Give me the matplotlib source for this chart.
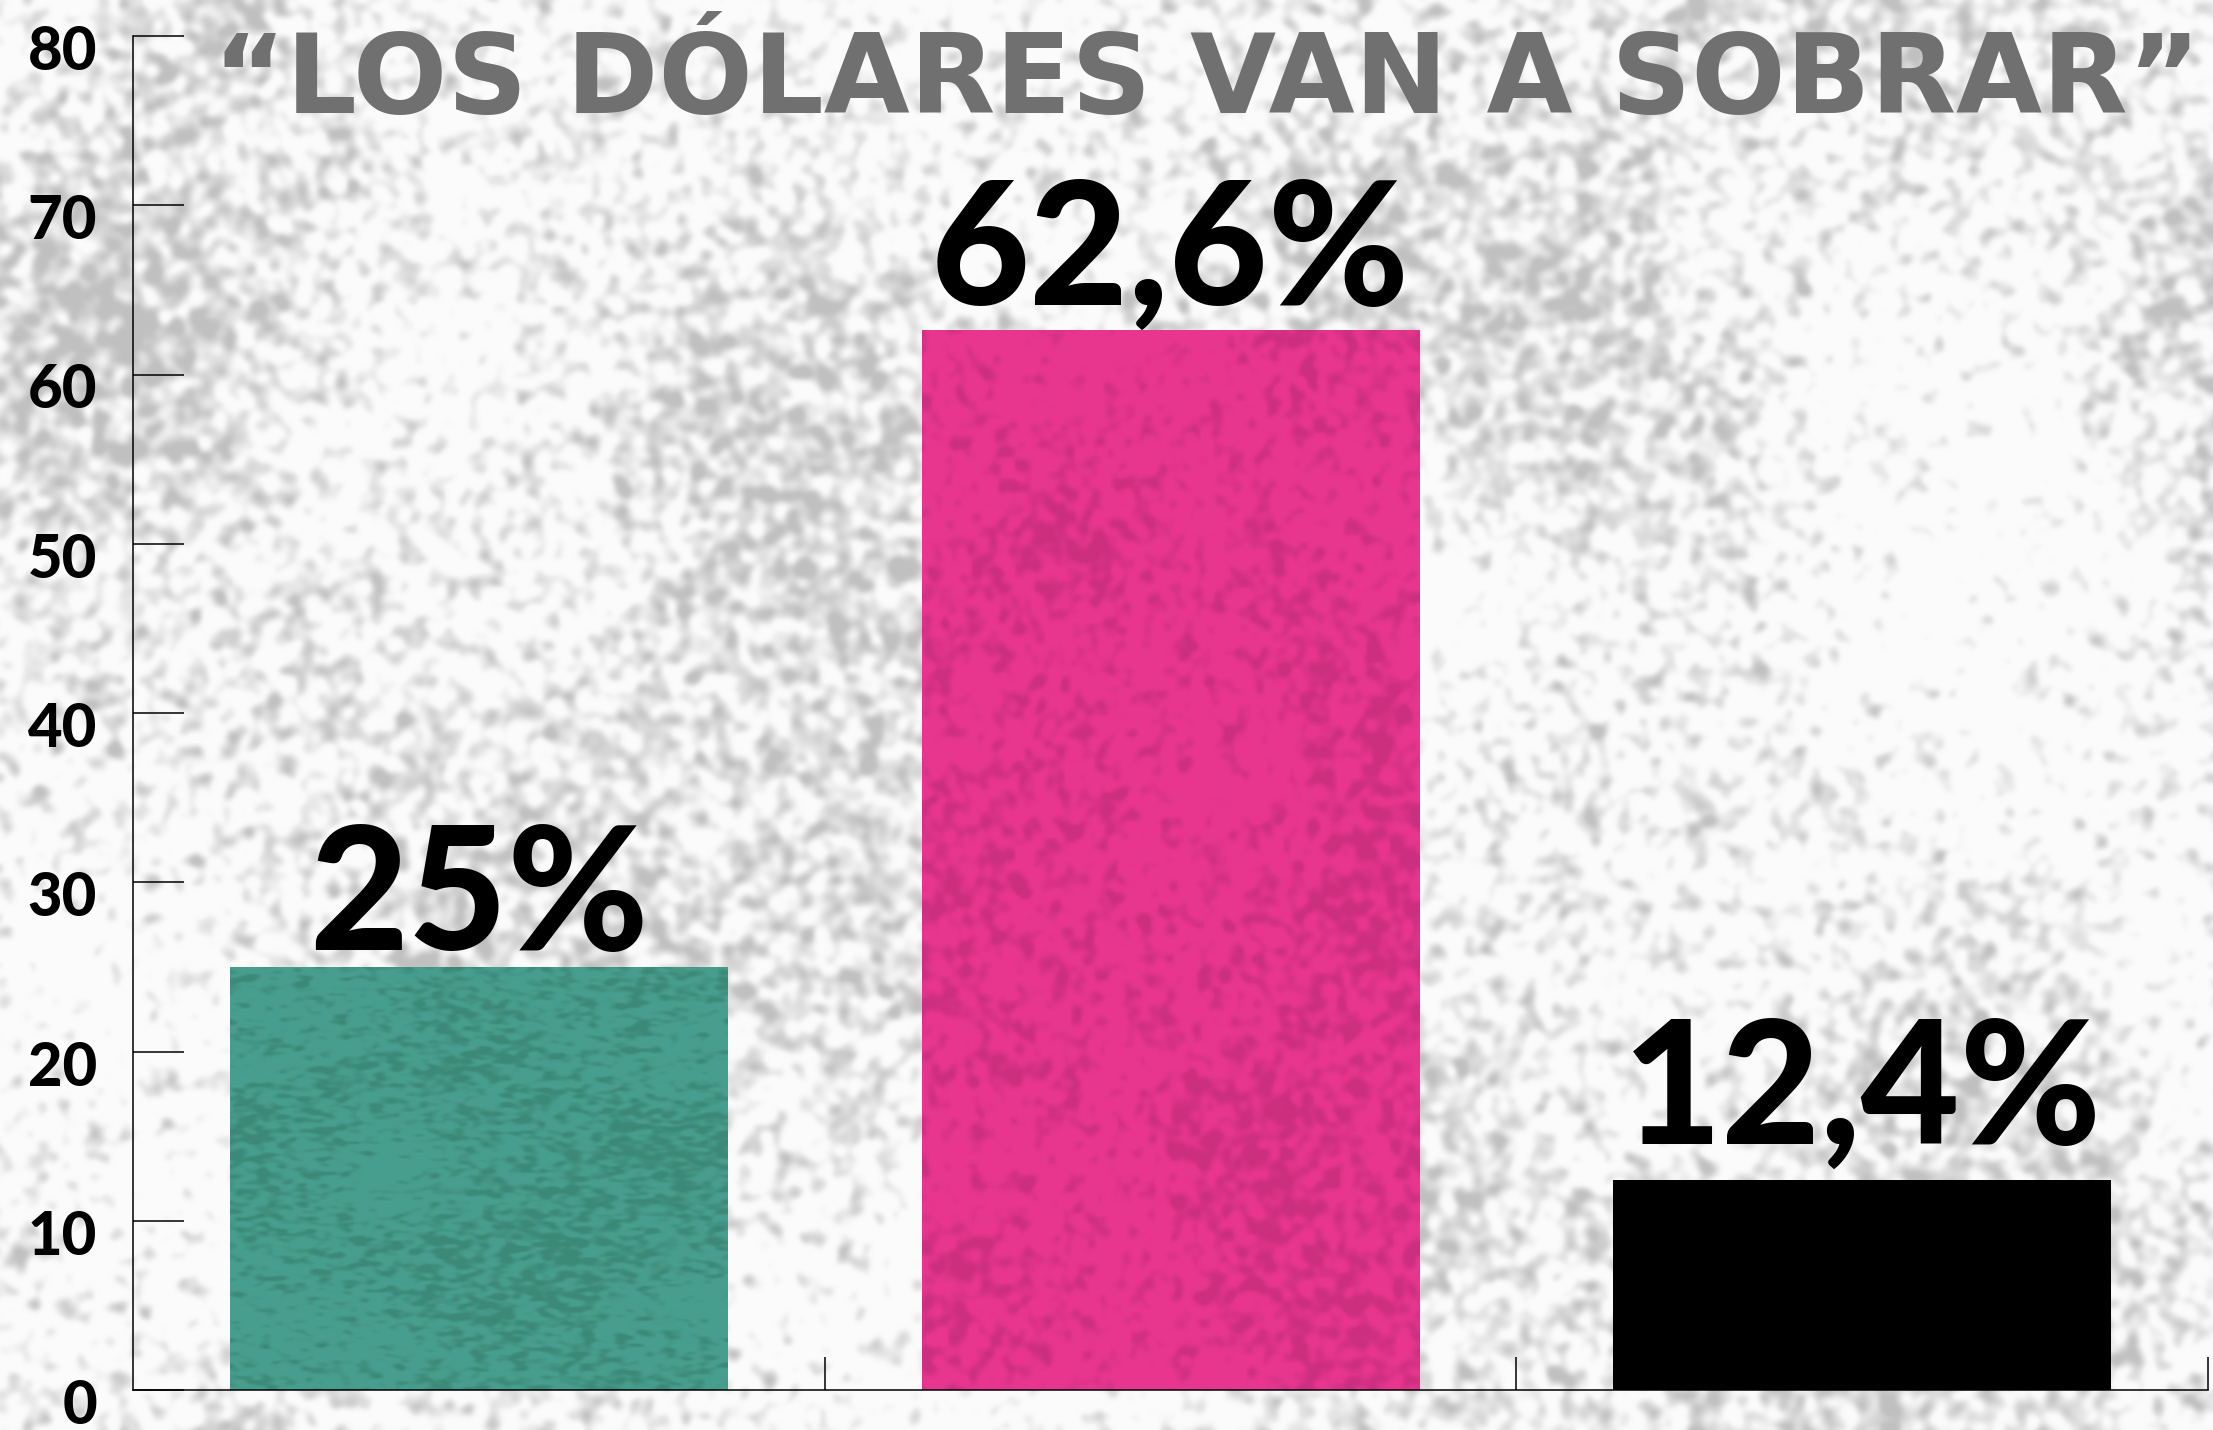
import numpy as np
import matplotlib
matplotlib.use("Agg")
import matplotlib.pyplot as plt
from matplotlib.transforms import ScaledTranslation

# Encuesta: "Los dólares van a sobrar"
categories = ["A", "B", "C"]
values = [25.0, 62.6, 12.4]
value_labels = ["25%", "62,6%", "12,4%"]
bar_colors = ["#489e8e", "#e8368f", "#000000"]
speck_colors = ["#37806f", "#c02c78", None]
yticks = [0, 10, 20, 30, 40, 50, 60, 70, 80]
title = "\u201cLOS D\u00d3LARES VAN A SOBRAR\u201d"

W, H = 2213, 1430
DPI = 100
FONT = "Lato"
TITLE_FONT = "DejaVu Sans"

rng = np.random.default_rng(7)


def blur(a, sigma):
    # gaussian blur through FFT
    fy = np.fft.fftfreq(a.shape[0])[:, None]
    fx = np.fft.fftfreq(a.shape[1])[None, :]
    g = np.exp(-2 * (np.pi * sigma) ** 2 * (fx ** 2 + fy ** 2))
    return np.real(np.fft.ifft2(np.fft.fft2(a) * g))


def norm(a):
    return (a - a.min()) / (a.max() - a.min())


def speckle(h, w, fine, coarse, cut, gain=4, mix=0.3):
    dens = norm(blur(rng.random((h, w)), coarse))
    fine_n = norm(blur(rng.random((h, w)), fine))
    s = np.clip((fine_n - cut + mix * dens) * gain, 0, 1)
    return s


# paper texture behind everything
bg = speckle(H // 2, W // 2, 2.4, 60, 0.66, gain=3, mix=0.42)
bg = blur(bg, 0.8)
bg_img = 0.985 - 0.23 * np.clip(bg, 0, 1)
bg_rgb = np.dstack([bg_img] * 3)

fig = plt.figure(figsize=(W / DPI, H / DPI), dpi=DPI)
bg_ax = fig.add_axes([0, 0, 1, 1], zorder=-1)
bg_ax.imshow(bg_rgb, aspect="auto", interpolation="bilinear")
bg_ax.axis("off")

ax = fig.add_axes([133 / W, 1 - 1390 / H, (2208 - 133) / W, (1390 - 36) / H])
ax.set_facecolor("none")

x = np.arange(len(categories))
bars = ax.bar(x, values, width=0.72, color=bar_colors, zorder=2)

# darker grain on the coloured bars
for bar, sc in zip(bars, speck_colors):
    if sc is None:
        continue
    tex = speckle(300, 150, 1.2, 20, 0.6)
    rgba = np.zeros((300, 150, 4))
    rgba[..., :3] = matplotlib.colors.to_rgb(sc)
    rgba[..., 3] = 0.7 * tex
    x0 = bar.get_x()
    im = ax.imshow(rgba, extent=(x0, x0 + bar.get_width(), 0, bar.get_height()),
                   aspect="auto", interpolation="bilinear", zorder=2.5)
    im.set_clip_path(bar)

label_gaps = [17, 26, 36]
for xi, v, lab, gap in zip(x, values, value_labels, label_gaps):
    ax.annotate(lab, (xi, v), xytext=(0, gap * 72 / DPI), textcoords="offset points",
                ha="center", va="baseline", fontsize=123, fontfamily=FONT,
                fontweight="black", color="black", zorder=3)

ax.set_xlim(-0.5, 2.5)
ax.set_ylim(0, 80)
ax.set_yticks(yticks)
ax.set_xticks([0.5, 1.5, 2.5])
ax.set_xticklabels([])
ax.tick_params(axis="y", direction="in", length=36.7, width=1.1, pad=26,
               labelsize=43, colors="black")
ax.tick_params(axis="x", direction="in", length=23.8, width=1.1)
for lbl in ax.get_yticklabels():
    lbl.set_fontfamily(FONT)
    lbl.set_fontweight("black")
    lbl.set_transform(lbl.get_transform() + ScaledTranslation(0, -11 / DPI, fig.dpi_scale_trans))

for side in ["top", "right"]:
    ax.spines[side].set_visible(False)
for side in ["left", "bottom"]:
    ax.spines[side].set_linewidth(1.1)

fig.text(1207 / W, 1 - 113 / H, title, ha="center", va="baseline",
         fontsize=80, fontfamily=TITLE_FONT, fontweight="bold", color="#707070")

fig.savefig("out.png", dpi=DPI)
